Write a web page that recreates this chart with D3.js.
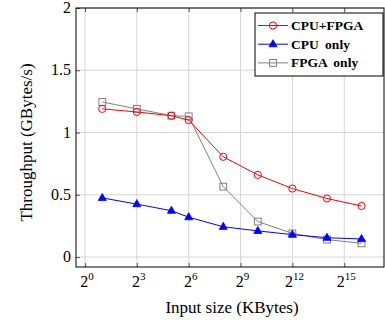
<!DOCTYPE html>
<html><head><meta charset="utf-8">
<script src="https://cdn.jsdelivr.net/npm/d3@7"></script>
<style>body{margin:0;background:#fff}svg{display:block}text{font-family:"Liberation Serif","DejaVu Serif",serif}</style>
</head><body>
<svg id="c" width="385" height="320"></svg>
<script>
const exps = [1, 3, 5, 6, 8, 10, 12, 14, 16];
const cpuFpga = [1.19, 1.165, 1.135, 1.10, 0.805, 0.66, 0.55, 0.47, 0.41];
const cpuOnly = [0.475, 0.425, 0.372, 0.32, 0.243, 0.21, 0.18, 0.155, 0.145];
const fpgaOnly = [1.245, 1.19, 1.135, 1.13, 0.565, 0.285, 0.19, 0.14, 0.11];
const xTickExps = [0, 3, 6, 9, 12, 15];
const yTicks = [0, 0.5, 1, 1.5, 2];
const yTickLabels = ["0", "0.5", "1", "1.5", "2"];
const seriesNames = ["CPU+FPGA", "CPU only", "FPGA only"];

const svg = d3.select("#c");
const L = 76, R = 384, T = 8, B = 267;
const x = d3.scaleLinear().domain([-0.52, 17.3]).range([L, R]);
const y = d3.scaleLinear().domain([-0.08, 2]).range([B, T]);

// grid
const g = svg.append("g");
g.selectAll(".vg").data(xTickExps).enter().append("line")
  .attr("x1", d => x(d)).attr("x2", d => x(d)).attr("y1", T).attr("y2", B)
  .attr("stroke", "#d6d6d6").attr("stroke-width", 1);
g.selectAll(".hg").data(yTicks).enter().append("line")
  .attr("x1", L).attr("x2", R).attr("y1", d => y(d)).attr("y2", d => y(d))
  .attr("stroke", "#d6d6d6").attr("stroke-width", 1);

// axes via d3
const xAxis = d3.axisBottom(x).tickValues(xTickExps).tickSize(-4).tickFormat("");
const yAxis = d3.axisLeft(y).tickValues(yTicks).tickSize(-4).tickFormat("");
const xa = svg.append("g").attr("transform", `translate(0,${B})`).call(xAxis);
const ya = svg.append("g").attr("transform", `translate(${L},0)`).call(yAxis);
[xa, ya].forEach(a => { a.select(".domain").remove(); a.selectAll("line").attr("stroke", "#555"); });
svg.append("g").attr("transform", `translate(0,${T})`).call(d3.axisTop(x).tickValues(xTickExps).tickSize(-4).tickFormat(""))
  .call(a => { a.select(".domain").remove(); a.selectAll("line").attr("stroke", "#555"); });

// x tick labels with superscripts
xTickExps.forEach(e => {
  const t = svg.append("text").attr("x", x(e) + 2).attr("y", 287).attr("text-anchor", "middle")
    .attr("font-size", 16);
  t.append("tspan").text("2");
  t.append("tspan").attr("dy", -7).attr("font-size", 11).text(e);
});
// y tick labels
yTicks.forEach((v, i) => {
  svg.append("text").attr("x", 71).attr("y", y(v) + 5).attr("text-anchor", "end")
    .attr("font-size", 16).text(yTickLabels[i]);
});

// frame
svg.append("rect").attr("x", L).attr("y", T).attr("width", R - L).attr("height", B - T)
  .attr("fill", "none").attr("stroke", "#000").attr("stroke-width", 1);

// axis labels
svg.append("text").attr("x", 232).attr("y", 313).attr("text-anchor", "middle")
  .attr("font-size", 17).text("Input size (KBytes)");
svg.append("text").attr("transform", `translate(32,${(T + B) / 2 + 5}) rotate(-90)`)
  .attr("text-anchor", "middle").attr("font-size", 17)
  .text("Throughput (GBytes/s)");

const series = [
  {name: seriesNames[0], vals: cpuFpga, color: "#ff0000", mark: "circle"},
  {name: seriesNames[1], vals: cpuOnly, color: "#0000ff", mark: "tri"},
  {name: seriesNames[2], vals: fpgaOnly, color: "#808080", mark: "square"}
];
const line = d3.line().x(d => x(d[0])).y(d => y(d[1]));

function drawMark(sel, m, color, cx, cy) {
  if (m === "circle") sel.append("circle").attr("cx", cx).attr("cy", cy).attr("r", 3.6)
    .attr("fill", "none").attr("stroke", color).attr("stroke-width", 1);
  else if (m === "square") sel.append("rect").attr("x", cx - 3.4).attr("y", cy - 3.4).attr("width", 6.8).attr("height", 6.8)
    .attr("fill", "none").attr("stroke", color).attr("stroke-width", 1);
  else sel.append("path").attr("d", `M${cx},${cy - 4.5}L${cx + 4},${cy + 2.6}L${cx - 4},${cy + 2.6}Z`)
    .attr("fill", color).attr("stroke", color).attr("stroke-width", 0.8);
}

const order = [2, 1, 0];
order.forEach(i => {
  const s = series[i];
  const pts = exps.map((e, k) => [e, s.vals[k]]);
  const gs = svg.append("g");
  gs.append("path").attr("d", line(pts)).attr("fill", "none").attr("stroke", s.color).attr("stroke-width", 1);
  pts.forEach(p => drawMark(gs, s.mark, s.color, x(p[0]), y(p[1])));
});

// legend
const lg = svg.append("g");
lg.append("rect").attr("x", 255).attr("y", 13).attr("width", 128).attr("height", 63)
  .attr("fill", "#fff").attr("stroke", "#000").attr("stroke-width", 1);
series.forEach((s, i) => {
  const cy = 25.5 + i * 18.7;
  lg.append("line").attr("x1", 258).attr("x2", 288).attr("y1", cy).attr("y2", cy)
    .attr("stroke", s.color).attr("stroke-width", 1);
  drawMark(lg, s.mark, s.color, 273, cy);
  lg.append("text").attr("x", 291).attr("y", cy + 4.5)
    .attr("font-weight", "bold").attr("font-size", 13.5).attr("word-spacing", 3).text(s.name);
});
</script>
</body></html>
